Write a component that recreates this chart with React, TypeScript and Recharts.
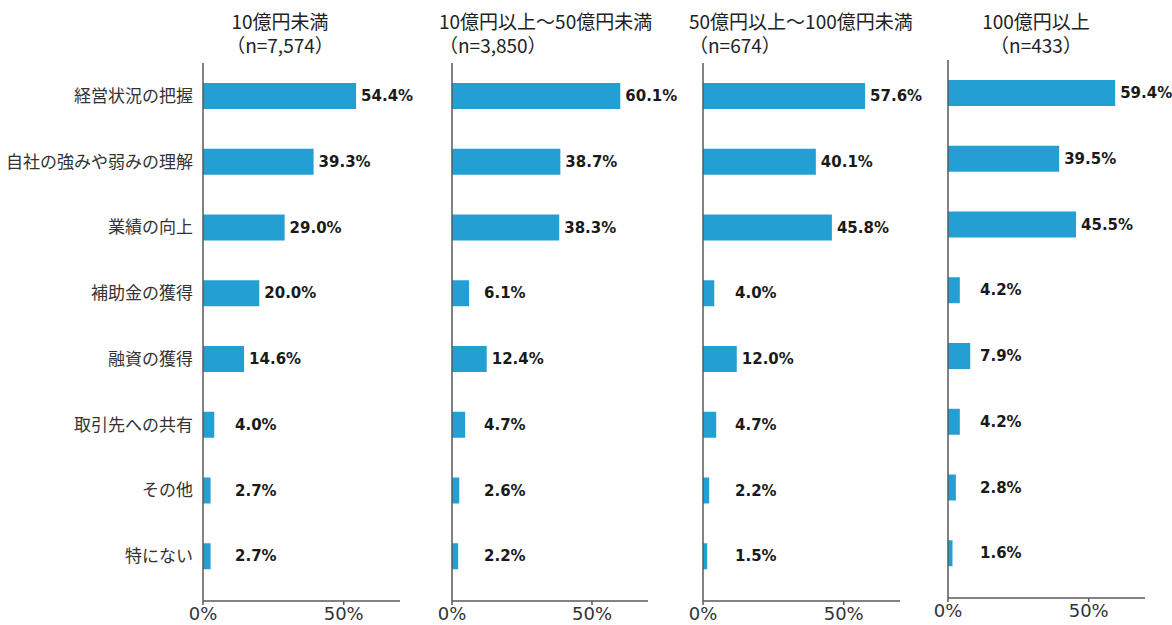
import { Bar, BarChart, LabelList, XAxis, YAxis } from "recharts"

const categories = [
  "経営状況の把握",
  "自社の強みや弱みの理解",
  "業績の向上",
  "補助金の獲得",
  "融資の獲得",
  "取引先への共有",
  "その他",
  "特にない",
]

const titles = ["10億円未満", "10億円以上～50億円未満", "50億円以上～100億円未満", "100億円以上"]
const sampleSizes = ["（n=7,574）", "（n=3,850）", "（n=674）", "（n=433）"]

const valuesUnder10 = [54.4, 39.3, 29.0, 20.0, 14.6, 4.0, 2.7, 2.7]
const values10to50 = [60.1, 38.7, 38.3, 6.1, 12.4, 4.7, 2.6, 2.2]
const values50to100 = [57.6, 40.1, 45.8, 4.0, 12.0, 4.7, 2.2, 1.5]
const values100plus = [59.4, 39.5, 45.5, 4.2, 7.9, 4.2, 2.8, 1.6]

const xTicks = [0, 50]

const BAR_COLOR = "#249fd4"
const AXIS_COLOR = "#595959"

// bold value label just past the bar end, small bars get pushed out a bit
const ValueLabel = (props: any) => {
  const { x, y, width, height, value } = props
  const lx = x + Math.max(width + 5, 32)
  return (
    <text
      x={lx}
      y={y + height / 2}
      dominantBaseline="central"
      fontFamily="DejaVu Sans"
      fontWeight="bold"
      fontSize={15}
      fill="#1a1a1a"
    >
      {`${value.toFixed(1)}%`}
    </text>
  )
}

type PanelProps = {
  values: number[]
  left: number
  top: number
  width: number
  axisWidth: number
  rightMargin: number
  showCategories: boolean
}

function Panel({ values, left, top, width, axisWidth, rightMargin, showCategories }: PanelProps) {
  const data = categories.map((c, i) => ({ name: c, value: values[i] }))
  return (
    <div style={{ position: "absolute", left, top }}>
      <BarChart
        layout="vertical"
        width={width}
        height={625}
        data={data}
        margin={{ top: 63, right: rightMargin, bottom: 0, left: 0 }}
        barCategoryGap={0}
      >
        <XAxis
          type="number"
          domain={[0, 70]}
          ticks={xTicks}
          tickFormatter={(v) => `${v}%`}
          height={24}
          tickSize={4}
          axisLine={{ stroke: AXIS_COLOR, strokeWidth: 1.5 }}
          tickLine={{ stroke: AXIS_COLOR, strokeWidth: 1.5 }}
          tick={{ fontFamily: "DejaVu Sans", fontSize: 18, fill: "#333" }}
          interval={0}
        />
        <YAxis
          type="category"
          dataKey="name"
          width={axisWidth}
          padding={{ top: 0, bottom: 12 }}
          axisLine={{ stroke: AXIS_COLOR, strokeWidth: 1.5 }}
          tickLine={false}
          tick={
            showCategories
              ? { fontFamily: "Noto Sans CJK JP", fontSize: 17, fill: "#333", dx: -2 }
              : false
          }
          interval={0}
        />
        <Bar dataKey="value" fill={BAR_COLOR} barSize={26} isAnimationActive={false}>
          <LabelList dataKey="value" content={ValueLabel} />
        </Bar>
      </BarChart>
    </div>
  )
}

const titleStyle: React.CSSProperties = {
  position: "absolute",
  top: 9,
  fontFamily: "Noto Sans CJK JP",
  fontSize: 19,
  lineHeight: "24px",
  color: "#222",
  whiteSpace: "nowrap",
}

export default function App() {
  return (
    <div
      style={{
        position: "absolute",
        left: 0,
        top: 0,
        width: 1172,
        height: 625,
        background: "#fff",
        overflow: "hidden",
      }}
    >
      <div style={{ ...titleStyle, left: 180, width: 200, textAlign: "center" }}>
        <div>{titles[0]}</div>
        <div>{sampleSizes[0]}</div>
      </div>
      <div style={{ ...titleStyle, left: 439 }}>
        <div>{titles[1]}</div>
        <div>{sampleSizes[1]}</div>
      </div>
      <div style={{ ...titleStyle, left: 689 }}>
        <div>{titles[2]}</div>
        <div>{sampleSizes[2]}</div>
      </div>
      <div style={{ ...titleStyle, left: 936, width: 200, textAlign: "center" }}>
        <div>{titles[3]}</div>
        <div>{sampleSizes[3]}</div>
      </div>

      <Panel values={valuesUnder10} left={0} top={0} width={460} axisWidth={203} rightMargin={60} showCategories />
      <Panel values={values10to50} left={420} top={0} width={288} axisWidth={32} rightMargin={60} showCategories={false} />
      <Panel values={values50to100} left={670} top={0} width={290} axisWidth={33} rightMargin={60} showCategories={false} />
      <Panel values={values100plus} left={915} top={-3} width={257} axisWidth={33} rightMargin={27} showCategories={false} />
    </div>
  )
}
